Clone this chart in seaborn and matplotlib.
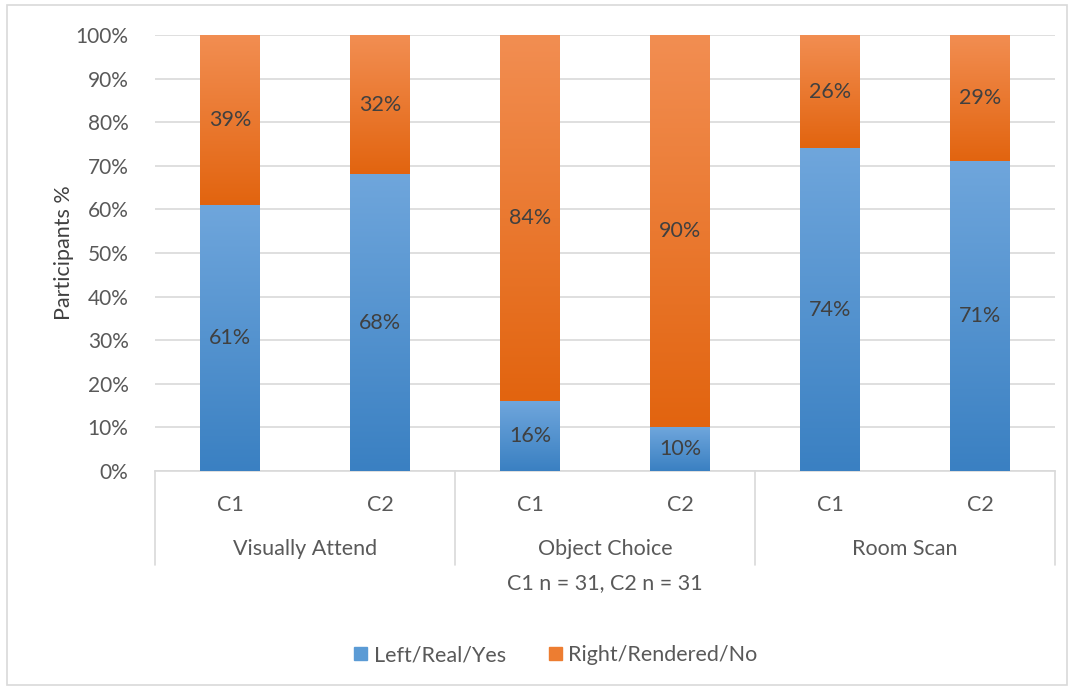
import numpy as np
import pandas as pd
import matplotlib
matplotlib.use("Agg")
import matplotlib.pyplot as plt
import matplotlib.patches as mpatches
import matplotlib.transforms as mtransforms
from matplotlib.colors import LinearSegmentedColormap
import seaborn as sns

# Data
groups = ["Visually Attend", "Object Choice", "Room Scan"]
conditions = ["C1", "C2"]
left_real_yes = [61, 68, 16, 10, 74, 71]
right_rendered_no = [39, 32, 84, 90, 26, 29]
y_ticks = [0, 10, 20, 30, 40, 50, 60, 70, 80, 90, 100]

keys = [f"{g} {c}" for g in groups for c in conditions]
df = pd.DataFrame({
    "key": keys,
    "left": left_real_yes,
    "right": right_rendered_no,
})
df["total"] = df["left"] + df["right"]

sns.set_style("white")
plt.rcParams["font.family"] = ["Lato", "DejaVu Sans"]
text_grey = "#595959"
fs = 15.5

fig = plt.figure(figsize=(10.73, 6.89), dpi=100)
ax = fig.add_axes([155 / 1073, 1 - 471 / 689, 900 / 1073, 436 / 689])

# orange = full stack, blue drawn over it
sns.barplot(data=df, x="key", y="total", order=keys, color="#ED7D31",
            width=0.4, ax=ax, linewidth=0)
n_orange = len(ax.patches)
sns.barplot(data=df, x="key", y="left", order=keys, color="#5B9BD5",
            width=0.4, ax=ax, linewidth=0)

blue_cmap = LinearSegmentedColormap.from_list("b", ["#3A80C2", "#6FA6DC"])
orange_cmap = LinearSegmentedColormap.from_list("o", ["#E2640F", "#F28E52"])
grad = np.linspace(0, 1, 256).reshape(-1, 1)

for i, p in enumerate(ax.patches):
    x0, y0 = p.get_x(), p.get_y()
    w, h = p.get_width(), p.get_height()
    cmap = orange_cmap if i < n_orange else blue_cmap
    if i < n_orange:
        # gradient only over the visible orange part
        y0 = df["left"].iloc[i]
        h = df["total"].iloc[i] - y0
    p.set_alpha(0)
    ax.imshow(grad, cmap=cmap, aspect="auto", origin="lower",
              extent=(x0, x0 + w, y0, y0 + h), zorder=2 + (i >= n_orange))
ax.set_xlim(-0.5, len(keys) - 0.5)
ax.set_ylim(0, 100)

# data labels
for i in range(len(keys)):
    l, r = df["left"].iloc[i], df["right"].iloc[i]
    ax.text(i, l / 2, f"{l}%", ha="center", va="center", fontsize=fs,
            color="#404040", zorder=5)
    ax.text(i, l + r / 2, f"{r}%", ha="center", va="center", fontsize=fs,
            color="#404040", zorder=5)

# axes styling
ax.set_yticks(y_ticks)
ax.set_yticklabels([f"{t}%" for t in y_ticks], fontsize=fs - 0.5, color=text_grey)
ax.yaxis.grid(True, color="#D9D9D9", linewidth=1.2)
ax.set_axisbelow(True)
ax.tick_params(axis="y", length=0, pad=19)
ax.tick_params(axis="x", length=0)
ax.set_xticklabels([])
ax.set_xlabel("")
ax.set_ylabel("Participants %", fontsize=fs, color="#404040", labelpad=1)
for s in ["left", "right", "top"]:
    ax.spines[s].set_visible(False)
ax.spines["bottom"].set_color("#D9D9D9")
ax.spines["bottom"].set_linewidth(1.2)

# multi-level category axis
trans = mtransforms.blended_transform_factory(ax.transData, ax.transAxes)
for b in [-0.5, 1.5, 3.5, 5.5]:
    ax.plot([b, b], [0, -0.2156], transform=trans, color="#D9D9D9",
            linewidth=1.2, clip_on=False)
for i, k in enumerate(keys):
    ax.text(i, -0.078, conditions[i % 2], transform=trans, ha="center",
            va="center", fontsize=fs, color=text_grey)
for gi, g in enumerate(groups):
    ax.text(gi * 2 + 0.5, -0.179, g, transform=trans, ha="center",
            va="center", fontsize=fs, color=text_grey)
fig.text(605 / 1073, 1 - 583 / 689, "C1 n = 31, C2 n = 31", ha="center",
         va="center", fontsize=fs, color=text_grey)

# legend
handles = [mpatches.Patch(color="#5B9BD5", label="Left/Real/Yes"),
           mpatches.Patch(color="#ED7D31", label="Right/Rendered/No")]
fig.legend(handles=handles, loc="center", bbox_to_anchor=(556 / 1073, 1 - 655 / 689),
           ncol=2, frameon=False, fontsize=fs, labelcolor=text_grey,
           handlelength=0.6, handleheight=0.6, handletextpad=0.3,
           columnspacing=2.0)

# chart border
fig.patches.append(mpatches.Rectangle((7 / 1073, 4 / 689), 1060 / 1073, 680 / 689,
                                      transform=fig.transFigure, fill=False,
                                      edgecolor="#D9D9D9", linewidth=1.2))

fig.savefig("out.png", dpi=100)
